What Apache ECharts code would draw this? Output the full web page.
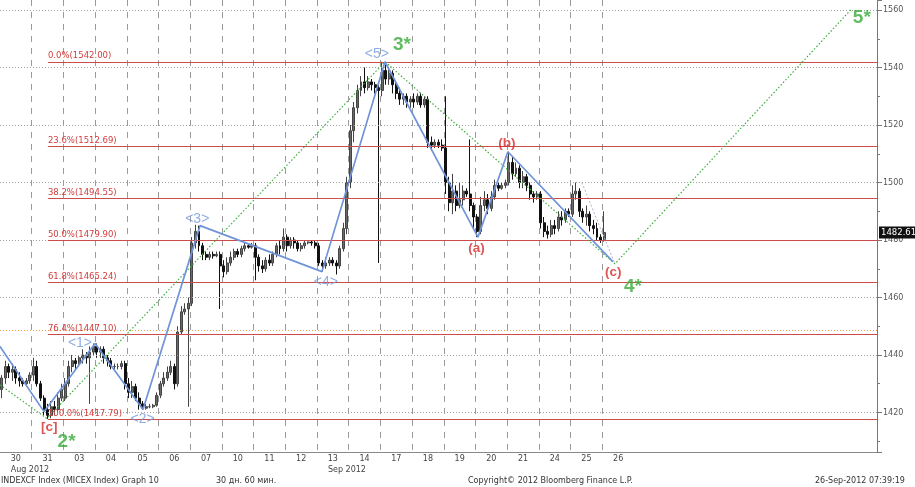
<!DOCTYPE html>
<html><head><meta charset="utf-8">
<script src="https://cdn.jsdelivr.net/npm/echarts@6/dist/echarts.min.js"></script>
<style>html,body{margin:0;padding:0;background:#fff}#c{width:915px;height:487px}</style>
</head><body><div id="c"></div>
<script>
// ---------- data ----------
const dayLabels = ['30','31','03','04','05','06','07','10','11','12','13','14','17','18','19','20','21','24','25','26'];
const months = [{name:'Aug 2012', firstDay:0, lastDay:1}, {name:'Sep 2012', firstDay:2, lastDay:19}];
const barsPerDay = 9;      // hourly bars per session
const slotsTotal = 249;    // hourly slots on the axis incl. projection area

// hourly bars: [open, close, low, high]
const d0830 = [[1428,1432,1425,1433],[1432,1436,1430,1438],[1436,1434,1432,1437],[1434,1435,1431,1437],[1435,1432,1430,1436],[1432,1431,1429,1434],[1431,1430,1429,1432],[1430,1431,1429,1432],[1431,1433,1430,1434]];
const d0831 = [[1433,1436,1431,1439],[1436,1430,1429,1438],[1430,1425,1424,1431],[1425,1421,1419,1426],[1421,1419,1417.79,1423],[1419,1422,1418,1424],[1422,1421,1419,1424],[1421,1425,1420,1427],[1425,1428,1424,1430]];
const d0903 = [[1425,1430,1424,1432],[1430,1436,1429,1438],[1436,1438,1434,1440],[1438,1437,1435,1439],[1437,1439,1436,1440],[1439,1440,1437,1442],[1440,1439,1437,1441],[1439,1441,1423,1443],[1441,1443,1440,1444]];
const d0904 = [[1443,1441,1439,1444],[1441,1442,1439,1443],[1442,1439,1437,1443],[1439,1438,1436,1440],[1438,1436,1435,1439],[1436,1436,1435,1437],[1436,1436,1435,1437],[1436,1437,1435,1438],[1437,1430,1428,1438]];
const d0905 = [[1430,1427,1425,1432],[1427,1429,1425,1431],[1429,1425,1424,1430],[1425,1423,1421,1427],[1423,1421.5,1421,1424],[1421.5,1422,1421,1423],[1422,1422,1421.5,1423],[1422,1422.5,1421.5,1423],[1422.5,1426,1422,1427]];
const d0906 = [[1426,1430,1425,1431],[1430,1432,1429,1434],[1432,1434,1431,1436],[1434,1436,1433,1438],[1436,1430,1428,1437],[1430,1448,1429,1450],[1448,1455,1447,1457],[1455,1456,1454,1458],[1456,1458,1422,1460]];
const d0907 = [[1458,1479,1457,1481],[1479,1483,1477,1485.3],[1483,1478,1476,1485],[1478,1475,1473,1479],[1475,1474,1473,1476],[1474,1475,1473,1476],[1475,1474.5,1473.5,1476],[1474.5,1475,1474,1476],[1475,1471,1456,1476]];
const d0910 = [[1471,1469,1467,1473],[1469,1472,1468,1474],[1472,1474,1471,1476],[1474,1476,1473,1477],[1476,1475,1474,1477],[1475,1477,1474,1478],[1477,1478,1476,1479],[1478,1477.5,1477,1478.5],[1477.5,1478,1477,1479]];
const d0911 = [[1478,1474,1466,1479],[1474,1471,1469,1475],[1471,1470,1468.5,1473],[1470,1473,1469,1474],[1473,1472,1471,1475],[1472,1475,1471,1476],[1475,1478,1474,1479],[1478,1477,1475,1480],[1477,1481,1476,1484]];
const d0912 = [[1481,1478,1476,1482],[1478,1480,1477,1481],[1480,1479,1477,1481],[1479,1477,1476,1480],[1477,1478,1476,1479],[1478,1479,1477,1480],[1479,1479.3,1478.5,1479.5],[1479.3,1479,1478,1480],[1479,1478,1477,1480]];
const d0913 = [[1478,1472,1471,1479],[1472,1471,1469,1473],[1471,1472,1470,1474],[1472,1473,1471,1474],[1473,1472,1471,1474],[1472,1471,1468,1473],[1471,1477,1470,1478],[1477,1484,1476,1486],[1484,1500,1482,1502]];
const d0914 = [[1500,1518,1498,1520],[1518,1526,1514,1528],[1526,1532,1524,1534],[1532,1535,1530,1537],[1535,1533,1531,1540],[1533,1535,1532,1537],[1535,1534,1532,1536],[1534,1533,1531,1535],[1533,1532,1472,1534]];
const d0917 = [[1532,1539,1530,1542],[1539,1536,1534,1541],[1536,1538,1534,1540],[1538,1534,1531,1539],[1534,1531,1529,1535],[1531,1529,1527,1533],[1529,1530,1527,1531],[1530,1528,1526,1531],[1528,1529,1526,1530]];
const d0918 = [[1529,1528,1526,1531],[1528,1530,1527,1531],[1530,1527,1526,1531],[1527,1529,1526,1530],[1529,1514,1512,1530],[1514,1513,1511,1516],[1513,1514,1512,1515],[1514,1513,1512,1515],[1513,1512,1511,1515]];
const d0919 = [[1512,1500,1496,1530],[1500,1493,1490,1502],[1493,1497,1489,1503],[1497,1492,1490,1499],[1492,1494,1491,1500],[1494,1497,1492,1499],[1497,1496,1495,1498],[1496,1492,1490,1515],[1492,1488,1484,1493]];
const d0920 = [[1488,1483,1481,1489],[1483,1492,1482,1495],[1492,1494,1490,1497],[1494,1491,1489,1496],[1491,1495,1490,1497],[1495,1499,1494,1501],[1499,1498,1497,1500],[1498,1499,1497.5,1500],[1499,1500,1498,1501]];
const d0921 = [[1500,1507,1499,1510.7],[1507,1503,1501,1509],[1503,1505,1502,1507],[1505,1500,1498,1506],[1500,1502,1498,1504],[1502,1499,1497,1503],[1499,1496,1494,1500],[1496,1495,1493,1497],[1495,1496,1494,1497]];
const d0924 = [[1496,1486,1484,1497],[1486,1483,1481,1488],[1483,1482,1480.5,1485],[1482,1485,1481,1487],[1485,1484,1482,1487],[1484,1488,1483,1490],[1488,1487,1485,1490],[1487,1490,1486,1491],[1490,1489,1488,1491]];
const d0925 = [[1489,1496,1488,1499],[1496,1497,1494,1500],[1497,1490,1488,1498],[1490,1488,1486,1491],[1488,1489,1485,1492],[1489,1485,1483,1490],[1485,1484,1482,1487],[1484,1481,1480,1486],[1481,1480,1479,1482]];
const d0926 = [[1480,1482.61,1479.4,1490]];
const lastPrice = 1482.61;

// y-axis grid values
const yGridValues = [1420,1440,1460,1480,1500,1520,1540,1560];

// Fibonacci retracement levels
const fibPct = ['0.0%','23.6%','38.2%','50.0%','61.8%','76.4%','100.0%'];
const fibVal = [1542.00,1512.69,1494.55,1479.90,1465.24,1447.10,1417.79];
const fibStart = 13.6;          // slot where fib lines begin
const orangeLevel = 1448.7;

// wave lines: [slot position, price]
const waveBlue = [[0,1443],[12.5,1420.3],[27,1444],[40.6,1421],[56.8,1485],[91.4,1469],[109.3,1542],[135.7,1481],[144.2,1510.7],[174,1472.5]];
const waveGreen = [[0,1429.6],[13.3,1417.9],[109.3,1542],[174.6,1471.7],[241.9,1560.5]];
const waveFaint = [[165.2,1500],[174.6,1471.7]];

// wave labels: [text, slot position, price]
const labelsBlue = [['<1>',22.7,1444.2],['<2>',40.5,1417.6],['<3>',56.0,1487.2],['<4>',92.5,1465.5],['<5>',107.0,1544.6]];
const labelsGreen = [['2*',18.9,1409.9],['3*',114.1,1547.8],['4*',179.7,1463.7],['5*',244.7,1557.2]];
const labelsRed = [['[c]',14.0,1414.7],['(a)',135.3,1477.1],['(b)',143.9,1513.6],['(c)',174.1,1468.6]];

// ---------- build ----------
const bars = [].concat(d0830,d0831,d0903,d0904,d0905,d0906,d0907,d0910,d0911,d0912,d0913,d0914,d0917,d0918,d0919,d0920,d0921,d0924,d0925,d0926);
const cats = [];
for (let i = 0; i < slotsTotal; i++) cats.push('s' + i);
const nDays = dayLabels.length;
const monthIdx = months.map(m => Math.floor((m.firstDay*barsPerDay + (m.lastDay+1)*barsPerDay - 1)/2));
const yMin = 1406.26, yMax = 1563.48;
const monthBreaks = months.slice(1).map(m => m.firstDay*barsPerDay);

const FONT = 'DejaVu Sans';
const chart = echarts.init(document.getElementById('c'), null, {renderer:'canvas'});

function labelSeries(list, style) {
  return {
    type:'scatter', xAxisIndex:1, yAxisIndex:0, symbolSize:0, silent:true, z:10,
    data: list.map(d => ({value:[d[1], d[2]], name:d[0]})),
    label: Object.assign({show:true, position:'inside', formatter: p => p.name}, style)
  };
}

const footStyle = {fontSize:8, fontWeight:'normal', color:'#333', fontFamily:FONT};
const option = {
  animation:false,
  backgroundColor:'#ffffff',
  title: [
    {text:'INDEXCF Index (MICEX Index) Graph 10', left:1, top:477, padding:0, textStyle:footStyle},
    {text:'30 дн. 60 мин.', left:216, top:477, padding:0, textStyle:footStyle},
    {text:'Copyright© 2012 Bloomberg Finance L.P.', left:468, top:477, padding:0, textStyle:footStyle},
    {text:'26-Sep-2012 07:39:19', left:815, top:477, padding:0, textStyle:footStyle}
  ],
  grid:{left:0, right:38, top:0, bottom:35, containLabel:false},
  xAxis:[
    {type:'category', data:cats, boundaryGap:true, position:'bottom',
     axisLine:{show:true, onZero:false, lineStyle:{color:'#888'}},
     axisTick:{show:false},
     axisLabel:{show:true, interval:(i)=> i % barsPerDay === 4 && Math.floor(i/barsPerDay) < nDays,
       formatter:(v,i)=> dayLabels[Math.floor(i/barsPerDay)] || '', color:'#444', fontSize:8, fontFamily:FONT, margin:3},
     splitLine:{show:true, interval:(i)=> i % barsPerDay === 0 && i > 0 && i < nDays*barsPerDay,
       lineStyle:{color:'#9a9a9a', type:[6,6], width:1}}},
    {type:'value', min:0, max:slotsTotal, show:false, position:'bottom', axisLine:{onZero:false}},
    {type:'category', data:cats, boundaryGap:true, position:'bottom', offset:11,
     axisLine:{show:false, onZero:false}, axisTick:{show:false}, splitLine:{show:false},
     axisLabel:{show:true, interval:(i)=> monthIdx.indexOf(i) >= 0,
       formatter:(v,i)=> { const k = monthIdx.indexOf(i); return k >= 0 ? months[k].name : ''; },
       color:'#444', fontSize:8, fontFamily:FONT, margin:3}}
  ],
  yAxis:{type:'value', position:'right', min:yMin, max:yMax, splitNumber:8,
    axisLine:{show:true, onZero:false, lineStyle:{color:'#777'}},
    axisTick:{show:true, length:5, lineStyle:{color:'#777'}},
    minorTick:{show:true, splitNumber:2, length:3, lineStyle:{color:'#777'}},
    axisLabel:{color:'#555', fontSize:8, fontFamily:FONT, margin:6,
      formatter:(v)=> yGridValues.indexOf(Math.round(v*100)/100) >= 0 ? String(v) : ''},
    splitLine:{show:false}},
  series:[
    {type:'line', xAxisIndex:1, yAxisIndex:0, data:[], silent:true, z:1,
     markLine:{silent:true, symbol:['none','none'], animation:false,
       data: yGridValues.map(v => [{coord:[0,v], lineStyle:{color:'#a0a0a0', type:[1,2], width:1}, label:{show:false}}, {coord:[slotsTotal,v]}])
         .concat([[{coord:[0,orangeLevel], lineStyle:{color:'#f0a040', type:[1,2], width:1.2}, label:{show:false}}, {coord:[slotsTotal,orangeLevel]}]])
         .concat(fibVal.map((v,k) => [
           {coord:[fibStart,v], lineStyle:{color:'#cc4b4b', type:'solid', width:1.2},
            label:{show:true, position:'insideStartTop', distance:[0,1], formatter: fibPct[k] + '(' + v.toFixed(2) + ')',
              color:'#d23c3c', fontSize:8.5, fontFamily:FONT}},
           {coord:[slotsTotal,v]}]))
     }},
    // month separator below the axis
    {type:'line', xAxisIndex:1, yAxisIndex:0, data:[], silent:true, clip:false, z:2,
     markLine:{silent:true, symbol:['none','none'], animation:false,
       data: monthBreaks.map(b => [{coord:[b, yMin], lineStyle:{color:'#888', type:'solid', width:1}, label:{show:false}},
                                   {coord:[b, yMin - 23*(yMax-yMin)/452]}])}},
    {type:'candlestick', xAxisIndex:0, yAxisIndex:0, data:bars, barWidth:'70%', z:3,
     itemStyle:{color:'#6a6a6a', color0:'#111', borderColor:'#444', borderColor0:'#111', borderWidth:1},
     markLine:{silent:true, symbol:['none','none'], animation:false,
       data:[{yAxis:lastPrice, lineStyle:{color:'rgba(0,0,0,0)', width:0},
         label:{show:true, position:'end', distance:2, formatter:String(lastPrice), color:'#fff', backgroundColor:'#111',
           padding:[2,2,1,2], fontSize:8.5, fontFamily:FONT}}]}},
    {type:'line', xAxisIndex:1, yAxisIndex:0, data:waveFaint, symbol:'none', silent:true, z:4,
     lineStyle:{color:'#a9b4cc', width:1, type:[2,2]}},
    {type:'line', xAxisIndex:1, yAxisIndex:0, data:waveGreen, symbol:'none', silent:true, z:5,
     lineStyle:{color:'#3fae3f', width:1.2, type:[1.5,2]}},
    {type:'line', xAxisIndex:1, yAxisIndex:0, data:waveBlue, symbol:'none', silent:true, z:6,
     lineStyle:{color:'#6f94d8', width:1.7}},
    labelSeries(labelsBlue, {color:'#7399de', fontSize:14, fontFamily:'Liberation Sans'}),
    labelSeries(labelsGreen, {color:'#3aaa3a', fontSize:19, fontWeight:'bold', fontFamily:'Liberation Sans'}),
    labelSeries(labelsRed, {color:'#d42a2a', fontSize:13.5, fontWeight:'bold', fontFamily:'Liberation Sans'})
  ]
};
chart.setOption(option);
</script>
</body></html>
